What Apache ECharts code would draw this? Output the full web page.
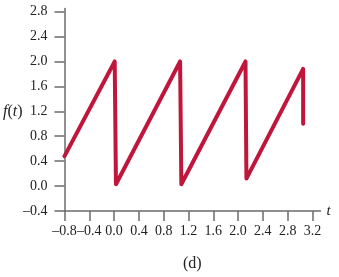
<!DOCTYPE html>
<html><head><meta charset="utf-8">
<script src="https://cdn.jsdelivr.net/npm/echarts@6/dist/echarts.min.js"></script>
<style>html,body{margin:0;padding:0;background:#fff}#c{width:339px;height:277px}</style>
</head><body><div id="c"></div>
<script>
const tVals = [-0.8, 0.01, 0.03, 1.065, 1.085, 2.12, 2.135, 3.05, 3.05];
const fVals = [0.48, 2.0, 0.03, 2.0, 0.03, 2.0, 0.12, 1.88, 1.0];
const xTicks = [-0.8, -0.4, 0.0, 0.4, 0.8, 1.2, 1.6, 2.0, 2.4, 2.8, 3.2];
const yTicks = [-0.4, 0.0, 0.4, 0.8, 1.2, 1.6, 2.0, 2.4, 2.8];
const caption = '(d)';

const fmt = v => (v < 0 ? '\u2013' : '') + Math.abs(v).toFixed(1);
const chart = echarts.init(document.getElementById('c'), null, {renderer: 'canvas'});
const axisCol = '#6b6b6b';
const font = 'Liberation Serif';
chart.setOption({
  animation: false,
  grid: {left: 64.5, top: 8.5, width: 256, height: 202.5, containLabel: false},
  xAxis: {
    type: 'value', min: -0.8, max: 3.33,
    name: 't', nameLocation: 'end', nameGap: 6,
    nameTextStyle: {fontFamily: font, fontStyle: 'italic', fontSize: 15, color: '#222', verticalAlign: 'middle', padding: [3,0,0,0]},
    axisLine: {show: true, onZero: false, lineStyle: {color: axisCol, width: 1.5}},
    axisTick: {show: true, length: 10, customValues: xTicks, lineStyle: {color: axisCol, width: 1.5}},
    axisLabel: {customValues: xTicks, formatter: fmt, margin: 13, fontFamily: font, fontSize: 14, color: '#222',
      showMinLabel: true, showMaxLabel: true, hideOverlap: false},
    splitLine: {show: false}
  },
  yAxis: {
    type: 'value', min: -0.4, max: 2.85,
    axisLine: {show: true, onZero: false, lineStyle: {color: axisCol, width: 1.5}},
    axisTick: {show: true, length: 10, customValues: yTicks, lineStyle: {color: axisCol, width: 1.5}},
    axisLabel: {customValues: yTicks, formatter: fmt, margin: 17, fontFamily: font, fontSize: 14, color: '#222',
      showMinLabel: true, showMaxLabel: true, hideOverlap: false},
    splitLine: {show: false}
  },
  graphic: [
    {type: 'text', left: 3, top: 104, style: {
      text: '{i|f}{n|(}{i|t}{n|)}',
      rich: {
        i: {fontFamily: font, fontStyle: 'italic', fontSize: 16, fill: '#222'},
        n: {fontFamily: font, fontSize: 16, fill: '#222'}
      }}},
    {type: 'text', left: 183, top: 256, style: {text: caption, fontFamily: font, fontSize: 16, fill: '#222'}}
  ],
  series: [{
    type: 'line', showSymbol: false, symbol: 'none',
    data: tVals.map((t, i) => [t, fVals[i]]),
    lineStyle: {color: '#c0163c', width: 4, cap: 'round', join: 'round'}
  }]
});
</script></body></html>
